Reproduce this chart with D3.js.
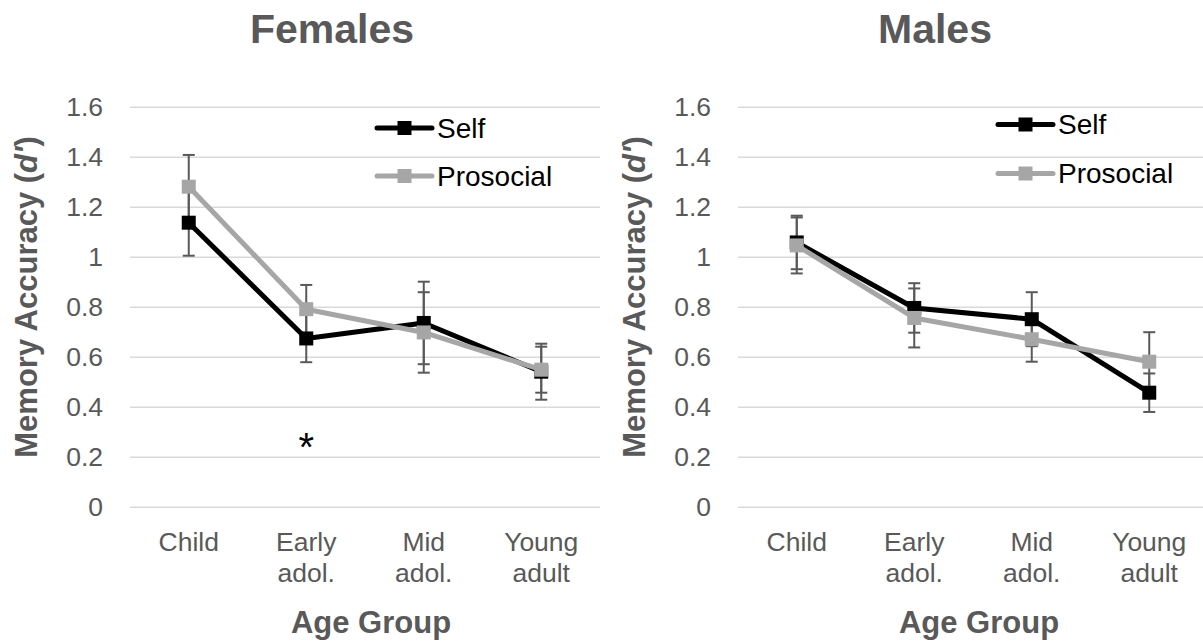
<!DOCTYPE html>
<html>
<head>
<meta charset="utf-8">
<script src="https://cdn.jsdelivr.net/npm/d3@7"></script>
<style>
  html, body { margin: 0; padding: 0; background: #fff; }
  svg { display: block; font-family: "Liberation Sans", Arial, sans-serif; }
</style>
</head>
<body>
<svg id="chart" width="1203" height="643"></svg>
<script>
// ---- data ----
const categories = ["Child", "Early adol.", "Mid adol.", "Young adult"];
const yTicks = [0, 0.2, 0.4, 0.6, 0.8, 1.0, 1.2, 1.4, 1.6];
const seriesNames = ["Self", "Prosocial"];

const femaleSelf = [1.136, 0.673, 0.735, 0.540];
const femaleSelfErr = [0.132, 0.095, 0.165, 0.112];
const femaleProsocial = [1.280, 0.790, 0.697, 0.548];
const femaleProsocialErr = [0.127, 0.097, 0.161, 0.092];

const maleSelf = [1.057, 0.795, 0.750, 0.456];
const maleSelfErr = [0.107, 0.099, 0.108, 0.077];
const maleProsocial = [1.045, 0.755, 0.670, 0.580];
const maleProsocialErr = [0.112, 0.118, 0.090, 0.118];

const panelTitles = ["Females", "Males"];
const yAxisTitle = "Memory Accuracy";
const xAxisTitle = "Age Group";
const femaleAnnotation = { category: "Early adol.", value: 0.275, text: "*" };

// ---- layout ----
const svg = d3.select("#chart");
const colors = { Self: "#000000", Prosocial: "#a6a6a6" };
const textGray = "#595959";

const panels = [
  { title: panelTitles[0], left: 130, titleX: 332, xTitleX: 371, yTitleX: 37,
    legendX: 377, legendY: [128, 176],
    series: [
      { name: "Self", values: femaleSelf, errs: femaleSelfErr },
      { name: "Prosocial", values: femaleProsocial, errs: femaleProsocialErr }
    ], annotation: femaleAnnotation },
  { title: panelTitles[1], left: 738, titleX: 935, xTitleX: 979, yTitleX: 645,
    legendX: 998, legendY: [124.5, 173.5],
    series: [
      { name: "Self", values: maleSelf, errs: maleSelfErr },
      { name: "Prosocial", values: maleProsocial, errs: maleProsocialErr }
    ], annotation: null }
];

const plotW = 470, plotTop = 106.7, plotBottom = 506.7;
const y = d3.scaleLinear().domain([0, 1.6]).range([plotBottom, plotTop]);
const fmt = d => String(+d.toFixed(1));

panels.forEach(p => {
  const x = d3.scalePoint().domain(categories).range([p.left, p.left + plotW]).padding(0.5);
  const g = svg.append("g");

  // title
  g.append("text").attr("x", p.titleX).attr("y", 43)
    .attr("text-anchor", "middle").attr("font-size", 41).attr("font-weight", "bold")
    .attr("fill", textGray).text(p.title);

  // y axis with gridlines
  const yAxis = d3.axisLeft(y).tickValues(yTicks).tickFormat(fmt)
    .tickSize(-plotW).tickPadding(27);
  const ya = g.append("g").attr("transform", `translate(${p.left},0)`).call(yAxis);
  ya.select(".domain").remove();
  ya.selectAll(".tick line").attr("stroke", "#d9d9d9").attr("stroke-width", 1.5);
  ya.selectAll(".tick text").attr("font-size", 26.5).attr("fill", textGray)
    .attr("font-family", "Liberation Sans, Arial, sans-serif");

  // x category labels
  const xl = g.append("g");
  categories.forEach(c => {
    const parts = c.split(" ");
    const t = xl.append("text").attr("text-anchor", "middle")
      .attr("font-size", 26.5).attr("fill", textGray);
    parts.forEach((part, i) => {
      t.append("tspan").attr("x", x(c)).attr("y", 550.7 + i * 31).text(part);
    });
  });

  // axis titles
  g.append("text").attr("x", p.xTitleX).attr("y", 633)
    .attr("text-anchor", "middle").attr("font-size", 31).attr("font-weight", "bold")
    .attr("fill", textGray).text(xAxisTitle);

  const yt = g.append("text")
    .attr("transform", `translate(${p.yTitleX},297) rotate(-90)`)
    .attr("text-anchor", "middle").attr("font-size", 31).attr("font-weight", "bold")
    .attr("fill", textGray);
  yt.append("tspan").text(yAxisTitle + " (");
  yt.append("tspan").attr("font-style", "italic").text("d'");
  yt.append("tspan").text(")");

  // error bars (beneath lines and markers)
  const eb = g.append("g").attr("stroke", "#595959").attr("stroke-width", 2);
  p.series.forEach(s => {
    s.values.forEach((v, i) => {
      const cx = x(categories[i]);
      const hi = y(v + s.errs[i]), lo = y(v - s.errs[i]);
      eb.append("line").attr("x1", cx).attr("x2", cx).attr("y1", hi).attr("y2", lo);
      eb.append("line").attr("x1", cx - 6).attr("x2", cx + 6).attr("y1", hi).attr("y2", hi);
      eb.append("line").attr("x1", cx - 6).attr("x2", cx + 6).attr("y1", lo).attr("y2", lo);
    });
  });

  // lines + markers
  const line = d3.line().x((d, i) => x(categories[i])).y(d => y(d));
  p.series.forEach(s => {
    g.append("path").datum(s.values).attr("d", line)
      .attr("fill", "none").attr("stroke", colors[s.name])
      .attr("stroke-width", 5).attr("stroke-linejoin", "round");
    g.selectAll(null).data(s.values).enter().append("rect")
      .attr("x", (d, i) => x(categories[i]) - 7).attr("y", d => y(d) - 7)
      .attr("width", 14).attr("height", 14).attr("fill", colors[s.name]);
  });

  // legend
  seriesNames.forEach((name, i) => {
    const ly = p.legendY[i];
    g.append("line").attr("x1", p.legendX).attr("x2", p.legendX + 55)
      .attr("y1", ly).attr("y2", ly).attr("stroke", colors[name])
      .attr("stroke-width", 5).attr("stroke-linecap", "round");
    g.append("rect").attr("x", p.legendX + 27.5 - 7).attr("y", ly - 7)
      .attr("width", 14).attr("height", 14).attr("fill", colors[name]);
    g.append("text").attr("x", p.legendX + 60).attr("y", ly + 9.5)
      .attr("font-size", 28).attr("fill", "#000").text(name);
  });

  // annotation
  if (p.annotation) {
    g.append("text").attr("x", x(p.annotation.category)).attr("y", y(p.annotation.value) + 23)
      .attr("text-anchor", "middle").attr("font-size", 40).attr("fill", "#000")
      .text(p.annotation.text);
  }
});
</script>
</body>
</html>
